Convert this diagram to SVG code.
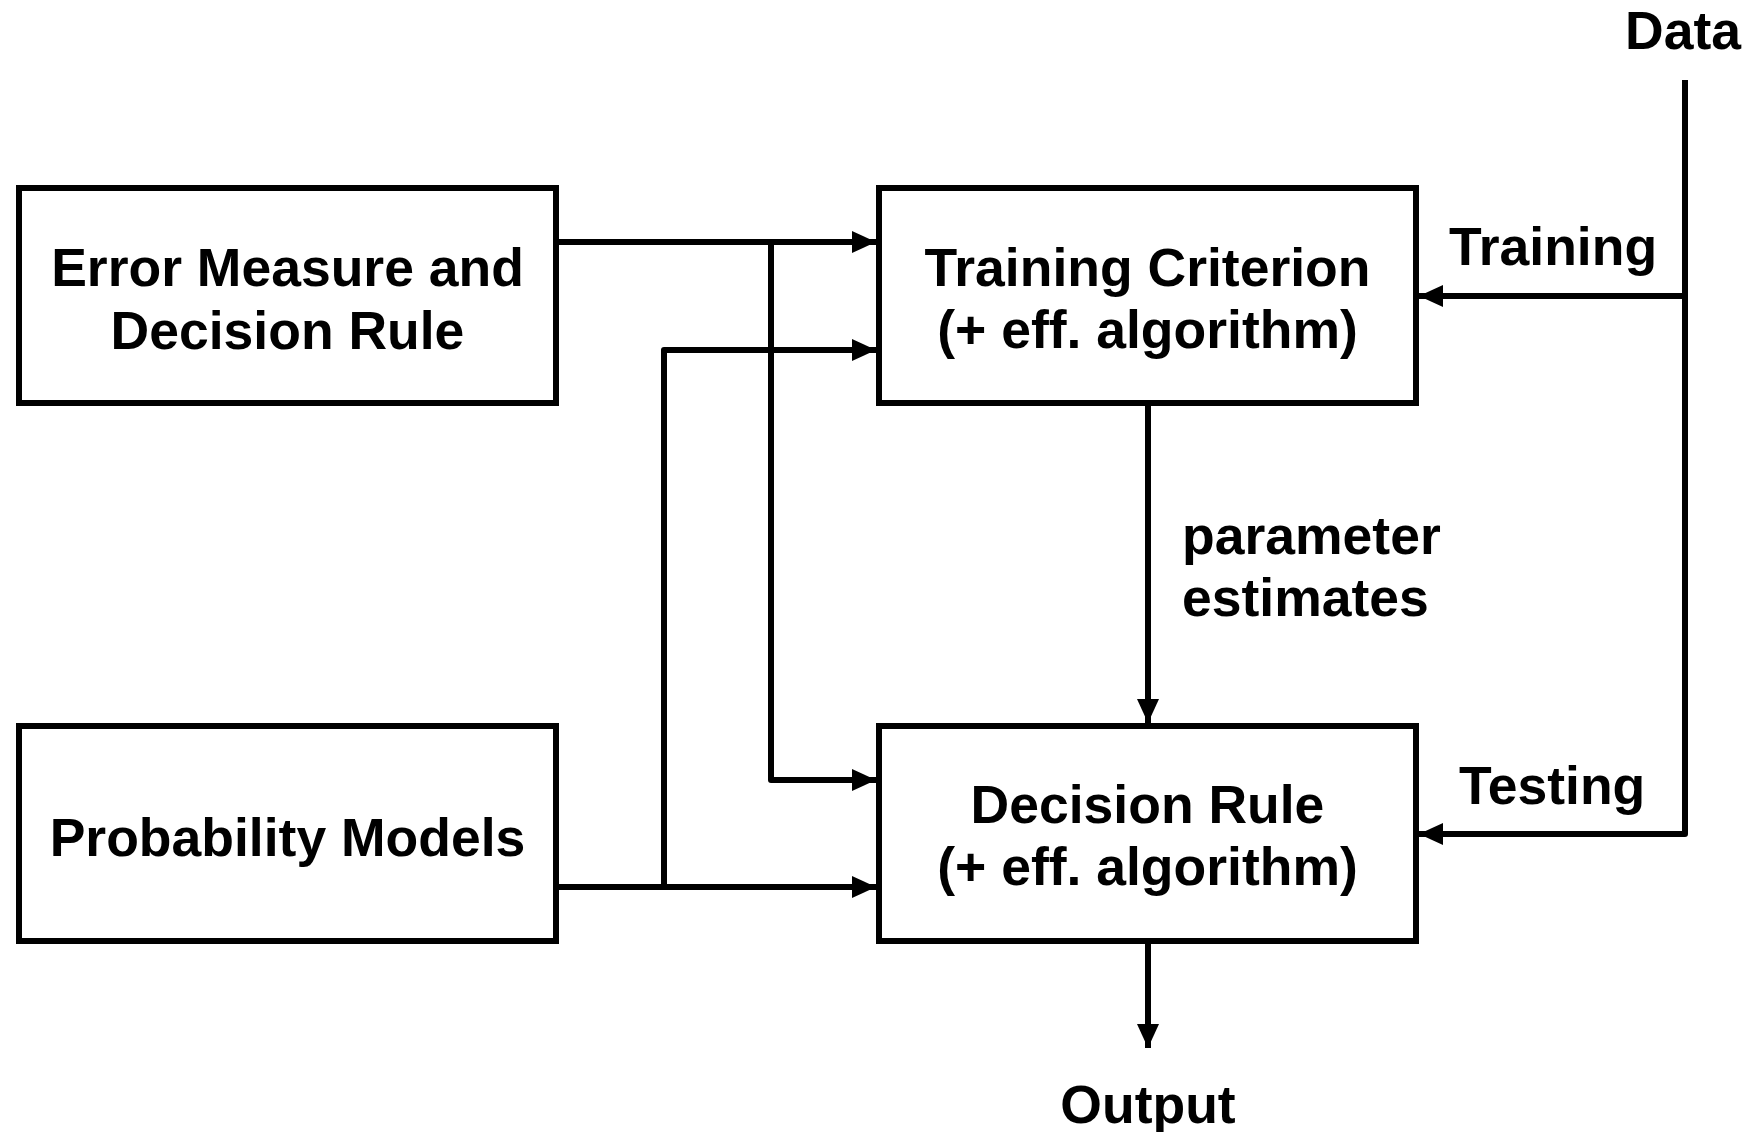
<svg xmlns="http://www.w3.org/2000/svg" width="1751" height="1132" viewBox="0 0 1751 1132">
<style>
.box{fill:#fff;stroke:#000;stroke-width:6}
.t{font-family:"Liberation Sans",Arial,sans-serif;font-weight:bold;font-size:53.5px;fill:#000}
.c{text-anchor:middle}
.ln{fill:none;stroke:#000;stroke-width:6;stroke-linejoin:round}
</style>
<defs>
<marker id="ah" markerUnits="userSpaceOnUse" markerWidth="25" markerHeight="23" refX="24" refY="11" orient="auto">
<path d="M0,0 L24,11 L0,22 z" fill="#000"/>
</marker>
</defs>
<rect width="1751" height="1132" fill="#fff"/>
<g id="connectors">
<path class="ln" d="M556,242 H876" marker-end="url(#ah)"/>
<path class="ln" d="M771,242 V780 H876" marker-end="url(#ah)"/>
<path class="ln" d="M556,887 H876" marker-end="url(#ah)"/>
<path class="ln" d="M664,887 V350 H876" marker-end="url(#ah)"/>
<path class="ln" d="M1685,80 V834 H1419" marker-end="url(#ah)"/>
<path class="ln" d="M1685,296 H1419" marker-end="url(#ah)"/>
<path class="ln" d="M1148,406 V723" marker-end="url(#ah)"/>
<path class="ln" d="M1148,944 V1048" marker-end="url(#ah)"/>
</g>
<g id="error-measure">
<rect class="box" x="19" y="188" width="537" height="215"/>
<text class="t c" x="287.5" y="286">Error Measure and</text>
<text class="t c" x="287.5" y="349">Decision Rule</text>
</g>
<g id="probability-models">
<rect class="box" x="19" y="726" width="537" height="215"/>
<text class="t c" x="287.5" y="856">Probability Models</text>
</g>
<g id="training-criterion">
<rect class="box" x="879" y="188" width="537" height="215"/>
<text class="t c" x="1147.5" y="286">Training Criterion</text>
<text class="t c" x="1147.5" y="348">(+ eff. algorithm)</text>
</g>
<g id="decision-rule">
<rect class="box" x="879" y="726" width="537" height="215"/>
<text class="t c" x="1147.5" y="823">Decision Rule</text>
<text class="t c" x="1147.5" y="885">(+ eff. algorithm)</text>
</g>
<g id="labels">
<text class="t" x="1625" y="49">Data</text>
<text class="t" x="1449" y="265">Training</text>
<text class="t" x="1459" y="804">Testing</text>
<text class="t" x="1182" y="554">parameter</text>
<text class="t" x="1182" y="616">estimates</text>
<text class="t c" x="1148" y="1123">Output</text>
</g>
</svg>
